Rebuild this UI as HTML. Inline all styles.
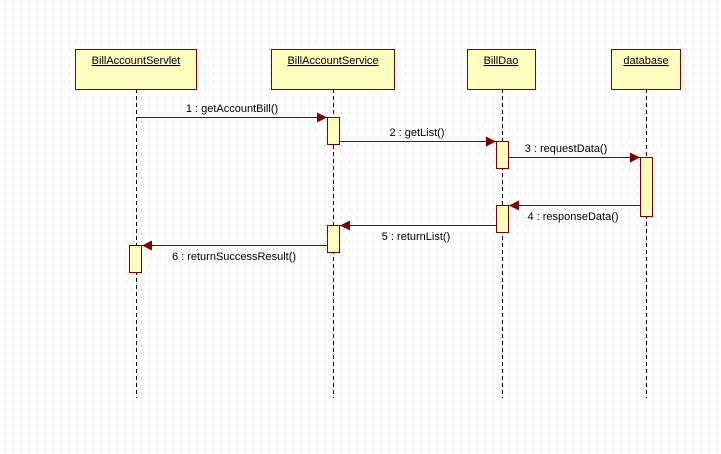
<!DOCTYPE html>
<html><head><meta charset="utf-8"><style>
html,body{margin:0;padding:0;background:#fff;}
svg{display:block;}
text{font-family:"Liberation Sans",sans-serif;font-size:11px;fill:#000;}
</style></head><body>
<svg width="721" height="454" viewBox="0 0 721 454" xmlns="http://www.w3.org/2000/svg">
<defs>
<pattern id="g" x="5" y="1" width="8" height="8" patternUnits="userSpaceOnUse">
<rect x="0" y="0" width="1" height="1" fill="#bdbdbd"/>
</pattern>
<marker id="a" viewBox="0 0 10 10" refX="10" refY="5" markerWidth="10" markerHeight="10" markerUnits="userSpaceOnUse" orient="auto">
<path d="M0,0 L10,5 L0,10 z" fill="#800000"/>
</marker>
</defs>
<rect width="721" height="454" fill="#fff"/>
<rect width="721" height="454" fill="url(#g)"/>

<g stroke="#000" stroke-width="1" stroke-dasharray="4,3">
<line x1="136.5" y1="89" x2="136.5" y2="398"/>
<line x1="333.5" y1="89" x2="333.5" y2="398"/>
<line x1="502.5" y1="89" x2="502.5" y2="398"/>
<line x1="646.5" y1="89" x2="646.5" y2="398"/>
</g>

<g fill="#ffffc0" stroke="#800000" stroke-width="1">
<rect x="75.5" y="49.5" width="121" height="40"/>
<rect x="271.5" y="49.5" width="123" height="40"/>
<rect x="467.5" y="49.5" width="68" height="40"/>
<rect x="611.5" y="49.5" width="69" height="40"/>
</g>
<g text-anchor="middle" text-decoration="underline">
<text x="136" y="64">BillAccountServlet</text>
<text x="333" y="64">BillAccountService</text>
<text x="501" y="64">BillDao</text>
<text x="646" y="64">database</text>
</g>

<g fill="#ffffc0" stroke="#800000" stroke-width="1">
<rect x="327.5" y="117.5" width="12" height="27"/>
<rect x="496.5" y="141.5" width="12" height="27"/>
<rect x="640.5" y="157.5" width="12" height="59"/>
<rect x="496.5" y="205.5" width="12" height="27"/>
<rect x="327.5" y="225.5" width="12" height="27"/>
<rect x="129.5" y="245.5" width="12" height="27"/>
</g>

<g stroke="#800000" stroke-width="1" marker-end="url(#a)">
<line x1="136" y1="117.5" x2="327" y2="117.5"/>
<line x1="340" y1="141.5" x2="496" y2="141.5"/>
<line x1="509" y1="157.5" x2="640" y2="157.5"/>
<line x1="640" y1="205.5" x2="509" y2="205.5"/>
<line x1="496" y1="225.5" x2="340" y2="225.5"/>
<line x1="327" y1="245.5" x2="142" y2="245.5"/>
</g>
<g text-anchor="middle">
<text x="232" y="112">1 : getAccountBill()</text>
<text x="417" y="136">2 : getList()</text>
<text x="566" y="152">3 : requestData()</text>
<text x="573" y="220">4 : responseData()</text>
<text x="416" y="240">5 : returnList()</text>
<text x="234" y="260">6 : returnSuccessResult()</text>
</g>
</svg>
</body></html>
